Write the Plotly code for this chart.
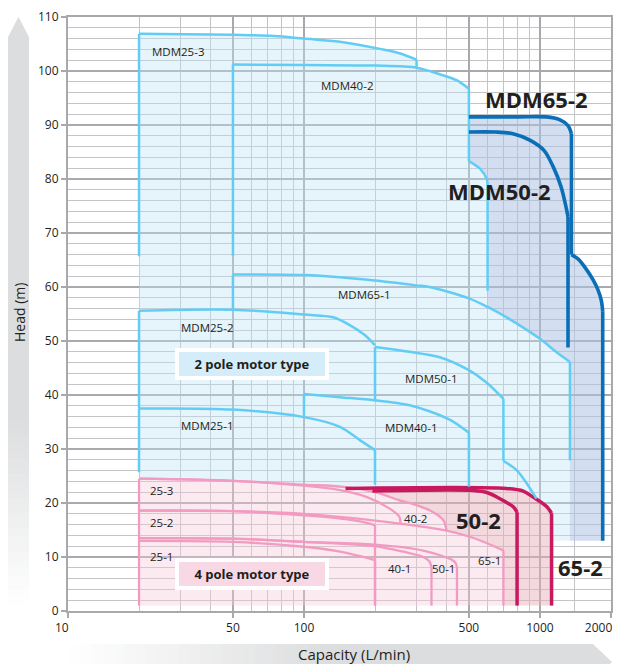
import math
import plotly.graph_objects as go

# ---------------- data ----------------
# 2-pole motor curves (Q in L/min, H in m)
mdm25_3_q = [20, 20, 50, 75, 100, 142, 210, 254, 300, 300]
mdm25_3_h = [65.7, 106.9, 106.7, 106.5, 106.0, 105.4, 104.1, 103.3, 102.1, 100.6]

mdm40_2_q = [50, 50, 100, 200, 300, 376, 443, 500, 500, 557, 596, 600, 600]
mdm40_2_h = [65.7, 101.2, 101.1, 101.0, 100.6, 99.4, 98.3, 96.7, 83.3, 81.9, 79.9, 78.8, 59.3]

mdm65_1_q = [50, 50, 100, 142, 200, 300, 340, 500, 600, 740, 1000, 1170, 1340, 1340]
mdm65_1_h = [56.0, 62.3, 62.2, 61.8, 61.2, 60.3, 60.0, 57.9, 56.3, 54.1, 50.4, 48.0, 46.1, 27.9]

mdm25_2_q = [20, 20, 50, 100, 133, 157, 181, 200]
mdm25_2_h = [37.5, 55.6, 55.8, 54.9, 54.4, 52.9, 51.1, 49.2]

mdm50_1_q = [200, 200, 280, 376, 500, 590, 700, 700, 800, 967]
mdm50_1_h = [39.0, 48.9, 48.0, 47.0, 44.6, 42.4, 39.3, 27.8, 26.0, 20.8]

mdm25_1_q = [20, 20, 50, 100, 142, 173, 200, 200]
mdm25_1_h = [25.7, 37.5, 37.3, 35.9, 34.1, 31.6, 29.8, 23.4]

mdm40_1_q = [100, 100, 142, 200, 280, 340, 420, 500, 500]
mdm40_1_h = [35.9, 40.2, 39.6, 39.0, 38.1, 37.0, 35.3, 33.0, 23.0]

mdm65_2_q = [500, 800, 1066, 1211, 1315, 1360, 1360, 1450, 1560, 1680, 1760, 1820, 1845, 1845]
mdm65_2_h = [91.5, 91.5, 91.5, 91.0, 89.9, 88.4, 66.0, 65.2, 63.5, 61.3, 59.5, 57.5, 55.5, 13.0]

mdm50_2_q = [500, 650, 769, 906, 1040, 1140, 1230, 1290, 1315, 1315]
mdm50_2_h = [88.7, 88.7, 88.4, 87.2, 85.3, 82.2, 78.5, 74.8, 73.0, 48.8]

blue_fill_floor = 13.0

# 4-pole motor curves
p25_3_q = [20, 20, 50, 100, 133, 185, 230, 254, 256]
p25_3_h = [1.0, 24.5, 24.1, 23.2, 22.6, 21.1, 19.0, 17.4, 16.2]
p40_2_q = [20, 50, 100, 147, 200, 254, 300, 353, 390, 402]
p40_2_h = [24.5, 24.1, 23.4, 23.0, 22.0, 20.5, 19.6, 18.3, 16.8, 14.9]
p25_2_q = [20, 50, 100, 150, 190, 200, 200]
p25_2_h = [18.6, 18.5, 17.7, 17.0, 16.2, 15.9, 1.0]
p65_1_q = [20, 50, 100, 254, 402, 500, 600, 700, 700]
p65_1_h = [18.6, 18.5, 18.0, 16.2, 14.9, 13.8, 12.5, 11.2, 1.0]
p25_1_q = [20, 50, 100, 142, 190, 200, 200]
p25_1_h = [13.0, 12.8, 11.9, 11.0, 9.7, 9.4, 1.0]
p40_1_q = [20, 50, 100, 200, 232, 320, 340, 347, 347]
p40_1_h = [13.5, 13.4, 12.8, 12.0, 11.5, 10.0, 9.2, 8.1, 1.0]
p50_1_q = [20, 50, 100, 200, 320, 427, 440, 445, 445]
p50_1_h = [13.5, 13.4, 12.8, 12.3, 11.2, 9.4, 8.8, 8.1, 1.0]
c50_2_q = [195, 520, 600, 676, 770, 800, 800]
c50_2_h = [22.2, 22.3, 21.9, 20.8, 19.3, 18.3, 1.0]
c65_2_q = [150, 720, 850, 935, 1070, 1120, 1120]
c65_2_h = [22.7, 22.7, 22.2, 21.1, 19.3, 18.1, 1.0]

pink_floor = 1.0

# labels: (text, Q, H)
small_labels = [("MDM25-3", 29.2, 103.6), ("MDM40-2", 152, 97.4), ("MDM65-1", 180, 58.7),
                ("MDM25-2", 38.8, 52.5), ("MDM50-1", 346, 43.0), ("MDM25-1", 38.8, 34.4),
                ("MDM40-1", 285, 33.9), ("25-3", 24.8, 22.3), ("25-2", 24.8, 16.4),
                ("25-1", 24.8, 10.1), ("40-2", 296, 17.2), ("40-1", 253, 7.8),
                ("50-1", 390, 7.8), ("65-1", 610, 9.4)]
big_labels = [("MDM65-2", 966, 94.9), ("MDM50-2", 673, 77.7), ("50-2", 549, 16.9), ("65-2", 1487, 8.1)]

NB = "\u00a0"
x_tick_vals = [10, 50, 100, 500, 1000, 2000]
x_tick_text = ["10" + NB * 4, "50", "100", "500", "1000", "2000" + NB * 8]
x_minor_vals = [20, 30, 40, 60, 70, 80, 90, 200, 300, 400, 600, 700, 800, 900, 1400]
y_tick_vals = [0, 10, 20, 30, 40, 50, 60, 70, 80, 90, 100, 110]

# ---------------- colours ----------------
C_LB_LINE = "#62CDF4"
C_DB_LINE = "#0A6FB7"
C_PK_LINE = "#F29BC1"
C_CR_LINE = "#C9195E"
C_MAJ = "#A7A9AC"
C_MIN = "#C3C4C6"
TXT = "#231F20"
FONT = "Open Sans"

fig = go.Figure()

def poly(q, h, color):
    fig.add_trace(go.Scatter(x=q, y=h, mode="lines", fill="toself", fillcolor=color,
                             line=dict(width=0), hoverinfo="skip"))

# light blue envelope
lb_q = ([mdm25_3_q[1]] + mdm25_3_q[1:] + mdm40_2_q[5:12] + mdm65_1_q[8:] +
        [mdm65_1_q[-1], c65_2_q[-1]] + c65_2_q[-2::-1] + p40_2_q[3::-1])
lb_h = ([p40_2_h[0]] + mdm25_3_h[1:] + mdm40_2_h[5:12] + mdm65_1_h[8:] +
        [blue_fill_floor, blue_fill_floor] + c65_2_h[-2::-1] + p40_2_h[3::-1])
poly(lb_q, lb_h, "rgba(192,227,245,0.4)")

# lavender envelope (MDM50-2 / MDM65-2)
lv_q = mdm65_2_q + [mdm65_1_q[-1]] + mdm65_1_q[-1:7:-1] + mdm40_2_q[11:7:-1]
lv_h = mdm65_2_h + [blue_fill_floor] + mdm65_1_h[-1:7:-1] + mdm40_2_h[11:7:-1]
poly(lv_q, lv_h, "rgba(175,195,228,0.55)")

# light pink envelope
lp_q = [p40_2_q[0]] + p40_2_q + p65_1_q[5:]
lp_h = [pink_floor] + p40_2_h + p65_1_h[5:]
poly(lp_q, lp_h, "rgba(247,202,220,0.4)")

# peach envelope (50-2 / 65-2)
pe_q = c65_2_q + [p65_1_q[-1]] + p65_1_q[-2:3:-1] + p40_2_q[8:2:-1]
pe_h = c65_2_h + [pink_floor] + p65_1_h[-2:3:-1] + p40_2_h[8:2:-1]
poly(pe_q, pe_h, "rgba(231,177,187,0.5)")


def line(q, h, color, w):
    """Vertical segments are drawn straight, the curved runs between them as splines."""
    runs = []
    cur_q, cur_h = [q[0]], [h[0]]
    for i in range(1, len(q)):
        if q[i] == q[i - 1]:
            if len(cur_q) > 1:
                runs.append((cur_q, cur_h, "spline"))
            runs.append(([q[i - 1], q[i]], [h[i - 1], h[i]], "linear"))
            cur_q, cur_h = [q[i]], [h[i]]
        else:
            cur_q.append(q[i])
            cur_h.append(h[i])
    if len(cur_q) > 1:
        runs.append((cur_q, cur_h, "spline"))
    for rq, rh, shp in runs:
        fig.add_trace(go.Scatter(x=rq, y=rh, mode="lines",
                                 line=dict(color=color, width=w, shape=shp, smoothing=0.9),
                                 hoverinfo="skip"))


for q, h in [(p25_3_q, p25_3_h), (p40_2_q, p40_2_h), (p25_2_q, p25_2_h), (p65_1_q, p65_1_h),
             (p25_1_q, p25_1_h), (p40_1_q, p40_1_h), (p50_1_q, p50_1_h)]:
    line(q, h, C_PK_LINE, 2.3)
for q, h in [(c50_2_q, c50_2_h), (c65_2_q, c65_2_h)]:
    line(q, h, C_CR_LINE, 3.5)
for q, h in [(mdm25_3_q, mdm25_3_h), (mdm40_2_q, mdm40_2_h), (mdm65_1_q, mdm65_1_h),
             (mdm25_2_q, mdm25_2_h), (mdm50_1_q, mdm50_1_h), (mdm25_1_q, mdm25_1_h),
             (mdm40_1_q, mdm40_1_h)]:
    line(q, h, C_LB_LINE, 2.5)
for q, h in [(mdm50_2_q, mdm50_2_h), (mdm65_2_q, mdm65_2_h)]:
    line(q, h, C_DB_LINE, 3.6)

ann = []
for t, q, h in small_labels:
    ann.append(dict(x=math.log10(q), y=h, text=t, showarrow=False, xanchor="center",
                    yanchor="middle", font=dict(family=FONT, size=11.5, color=TXT)))
for t, q, h in big_labels:
    ann.append(dict(x=math.log10(q), y=h, text=t, showarrow=False, xanchor="center",
                    yanchor="middle", font=dict(family=FONT, size=22, color=TXT, weight="bold")))

# motor type boxes
ann.append(dict(x=math.log10(60.3), y=45.7, text="2 pole motor type", showarrow=False,
                xanchor="center", yanchor="middle", width=146, height=24, borderpad=0,
                bgcolor="#D5ECF9", bordercolor="white", borderwidth=4,
                font=dict(family=FONT, size=13, color=TXT, weight="bold")))
ann.append(dict(x=math.log10(60.3), y=6.8, text="4 pole motor type", showarrow=False,
                xanchor="center", yanchor="middle", width=146, height=24, borderpad=0,
                bgcolor="#F9D8E5", bordercolor="white", borderwidth=4,
                font=dict(family=FONT, size=13, color=TXT, weight="bold")))

# 60Hz badge
ann.append(dict(x=math.log10(1414), y=107.2, text="60Hz", showarrow=False, xanchor="center",
                yanchor="middle", font=dict(family=FONT, size=15, color="white", weight="bold")))

# ---------------- layout geometry (window pixels; page body has an 8px margin) ----------------
OFF = 8
WIN_W, WIN_H = 621, 664
L, R, T, B = 68, 611, 17, 611
def px(x):
    return (x - L) / (R - L)
def py(y):
    return (B - y) / (B - T)

shapes = []
GRAY = (220, 221, 222)
def col(f):
    r = [round(255 + (c - 255) * f) for c in GRAY]
    return "rgb(%d,%d,%d)" % tuple(r)

# vertical arrow (Head)
shapes.append(dict(type="path", xref="paper", yref="paper", layer="below",
                   path="M %f,%f L %f,%f L %f,%f L %f,%f L %f,%f Z" % (
                       px(8), py(420), px(8), py(37), px(18.5), py(17), px(29), py(37), px(29), py(420)),
                   fillcolor=col(1), line=dict(width=0)))
n = 24
y0, y1 = 420, 606
for i in range(n):
    a = y0 + (y1 - y0) * i / n
    b = y0 + (y1 - y0) * (i + 1) / n
    shapes.append(dict(type="rect", xref="paper", yref="paper", layer="below",
                       x0=px(8), x1=px(29), y0=py(a), y1=py(b + 0.5),
                       fillcolor=col(1 - (i + 0.5) / n), line=dict(width=0)))
# horizontal arrow (Capacity)
shapes.append(dict(type="path", xref="paper", yref="paper", layer="below",
                   path="M %f,%f L %f,%f L %f,%f L %f,%f L %f,%f Z" % (
                       px(330), py(644), px(593), py(644), px(612), py(662), px(593), py(680), px(330), py(680)),
                   fillcolor=col(1), line=dict(width=0)))
x0_, x1_ = 70, 330
for i in range(n):
    a = x0_ + (x1_ - x0_) * i / n
    b = x0_ + (x1_ - x0_) * (i + 1) / n
    shapes.append(dict(type="rect", xref="paper", yref="paper", layer="below",
                       x0=px(a), x1=px(b + 0.5), y0=py(644), y1=py(680),
                       fillcolor=col((i + 0.5) / n), line=dict(width=0)))

# 60Hz box
shapes.append(dict(type="rect", xref="x", yref="y", layer="above",
                   x0=math.log10(1000), x1=math.log10(2000), y0=104.4, y1=110,
                   fillcolor="#A7A9AC", line=dict(width=0)))

ann.append(dict(xref="paper", yref="paper", x=px(19), y=py(313), text="Head (m)", textangle=-90,
                showarrow=False, xanchor="center", yanchor="middle",
                font=dict(family=FONT, size=14, color=TXT)))
ann.append(dict(xref="paper", yref="paper", x=px(354), y=py(654), text="Capacity (L/min)",
                showarrow=False, xanchor="center", yanchor="middle",
                font=dict(family=FONT, size=15, color=TXT)))

FIG_W = WIN_W  # the div is wider than the visible area so the "2000" label has room
fig.update_layout(
    width=FIG_W, height=WIN_H - OFF,
    margin=dict(l=L - OFF, r=FIG_W + OFF - R, t=T - OFF, b=WIN_H - B, pad=0),
    plot_bgcolor="white", paper_bgcolor="white", showlegend=False,
    font=dict(family=FONT, color=TXT), annotations=ann, shapes=shapes,
)
fig.update_xaxes(type="log", range=[1, math.log10(2000) + 1e-4], tickvals=x_tick_vals, ticktext=x_tick_text,
                 ticks="outside", ticklen=5, tickwidth=1.5, tickcolor=C_MAJ,
                 showgrid=True, gridcolor=C_MAJ, gridwidth=1.5, ticklabeloverflow="allow",
                 showline=True, linecolor=C_MAJ, linewidth=2, mirror=True, zeroline=False,
                 tickfont=dict(family=FONT, size=12, color=TXT), automargin=False,
                 minor=dict(tickmode="array", tickvals=x_minor_vals, showgrid=True,
                            gridcolor=C_MIN, gridwidth=1, ticks=""))
fig.update_yaxes(range=[0, 110], tickvals=y_tick_vals,
                 ticks="outside", ticklen=5, tickwidth=1.5, tickcolor=C_MAJ,
                 showgrid=True, gridcolor=C_MAJ, gridwidth=1.5,
                 showline=True, linecolor=C_MAJ, linewidth=2, mirror=True, zeroline=False,
                 tickfont=dict(family=FONT, size=12, color=TXT), automargin=False,
                 minor=dict(dtick=2, tick0=0, showgrid=True, gridcolor=C_MIN, gridwidth=1, ticks=""))

fig.write_html("out.html")
